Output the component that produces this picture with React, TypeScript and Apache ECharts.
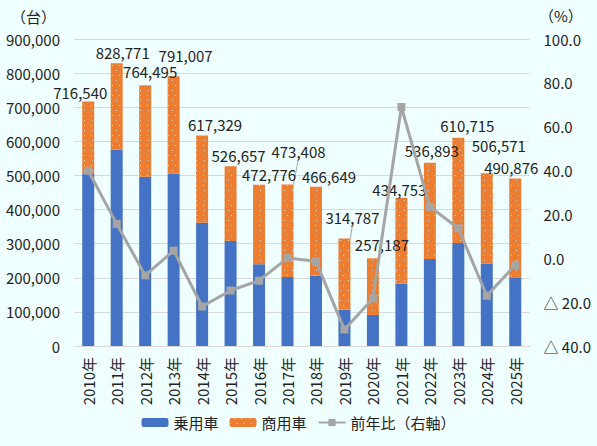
import React, { useEffect, useRef } from "react";
import * as echarts from "echarts";

const categories = ["2010年","2011年","2012年","2013年","2014年","2015年","2016年","2017年","2018年","2019年","2020年","2021年","2022年","2023年","2024年","2025年"];
const passenger = [505000,575000,496000,505000,361000,308000,240000,202000,206000,106000,91000,183000,255000,302000,241000,199000];
const commercial = [211540,253771,268495,286007,256329,218657,232776,271408,260649,208787,166187,251753,281893,308715,265571,291876];
const totals = [716540,828771,764495,791007,617329,526657,472776,473408,466649,314787,257187,434753,536893,610715,506571,490876];
const yoy = [39.9,15.7,-7.8,3.5,-22.0,-14.7,-10.2,0.1,-1.4,-32.5,-18.3,69.0,23.5,13.7,-17.1,-3.1];
const leftTicks = { min: 0, max: 900000, interval: 100000 };
const rightTicks = { min: -40, max: 100, interval: 20 };

// label placement nudges (layout only)
const labelShift: [number, number][] = [
  [-8, 3],[6, 2],[5, -1],[12, -8],[13, 2],[8, 2],[10, 2],[11, -21],
  [13, 2],[8, -9],[9, -1],[-2, 4],[2, 0],[9, 0],[12, -15],[-4, 1],
];
const withLeader = [7, 9];

const FONT = '"Noto Sans CJK JP", "Noto Sans", sans-serif';
const TXT = "#222222";

export default function App() {
  const ref = useRef<HTMLDivElement>(null);
  useEffect(() => {
    const chart = echarts.init(ref.current!, null, { renderer: "svg" });
    chart.setOption({
      animation: false,
      backgroundColor: "#F0FFFF",
      textStyle: { fontFamily: FONT },
      grid: { left: 74, right: 67.5, top: 39, bottom: 100, containLabel: false },
      legend: {
        bottom: 11,
        left: "center",
        itemWidth: 27,
        itemHeight: 9,
        itemGap: 11,
        textStyle: { fontSize: 15, color: TXT, fontFamily: FONT },
        data: ["乗用車", "商用車", "前年比（右軸）"],
      },
      graphic: [
        { type: "text", left: 11, top: 9, style: { text: "（台）", fontSize: 15, fill: TXT, fontFamily: FONT } },
        { type: "text", left: 539, top: 8, style: { text: "（%）", fontSize: 15, fill: TXT, fontFamily: FONT } },
      ],
      xAxis: {
        type: "category",
        data: categories,
        axisTick: { show: false },
        axisLine: { lineStyle: { color: "#D9D9D9" } },
        axisLabel: { rotate: 90, fontSize: 15, color: TXT, margin: 11, fontFamily: FONT },
      },
      yAxis: [
        {
          type: "value",
          ...leftTicks,
          axisLine: { show: false },
          axisTick: { show: false },
          splitLine: { lineStyle: { color: "#D9D9D9" } },
          axisLabel: {
            fontSize: 15, color: TXT, margin: 14, fontFamily: FONT,
            formatter: (v: number) => v.toLocaleString("en-US"),
          },
        },
        {
          type: "value",
          ...rightTicks,
          axisLine: { show: false },
          axisTick: { show: false },
          splitLine: { show: false },
          axisLabel: {
            fontSize: 15, color: TXT, margin: 14, fontFamily: FONT,
            formatter: (v: number) => (v < 0 ? "△ " + Math.abs(v).toFixed(1) : v.toFixed(1)),
          },
        },
      ],
      series: [
        {
          name: "乗用車",
          type: "bar",
          stack: "total",
          barWidth: 12,
          itemStyle: { color: "#4472C4" },
          data: passenger,
        },
        {
          name: "商用車",
          type: "bar",
          stack: "total",
          barWidth: 12,
          itemStyle: {
            color: "#ED7D31",
            decal: {
              symbol: "rect",
              symbolSize: 1,
              color: "rgba(255,255,255,0.75)",
              dashArrayX: [[1, 6], [0, 3.5, 1, 2.5]],
              dashArrayY: [1, 3.5],
              rotation: 0,
            },
          },
          label: {
            show: true,
            position: "top",
            distance: 5,
            fontSize: 15,
            color: TXT,
            fontFamily: FONT,
            formatter: (p: any) => totals[p.dataIndex].toLocaleString("en-US"),
          },
          labelLine: { show: false, lineStyle: { color: "#A6A6A6", width: 1 } },
          labelLayout: (p: any) => ({ dx: labelShift[p.dataIndex][0], dy: labelShift[p.dataIndex][1] }),
          data: commercial.map((v, i) =>
            withLeader.includes(i) ? { value: v, labelLine: { show: true, lineStyle: { color: "#A6A6A6", width: 1 } } } : v
          ),
        },
        {
          name: "前年比（右軸）",
          type: "line",
          yAxisIndex: 1,
          symbol: "rect",
          symbolSize: 8,
          lineStyle: { color: "#A5A5A5", width: 3 },
          itemStyle: { color: "#A5A5A5" },
          data: yoy,
        },
      ],
    });
    return () => chart.dispose();
  }, []);
  return (
    <div
      ref={ref}
      style={{ position: "fixed", left: 0, top: 0, width: 597, height: 446 }}
    />
  );
}
